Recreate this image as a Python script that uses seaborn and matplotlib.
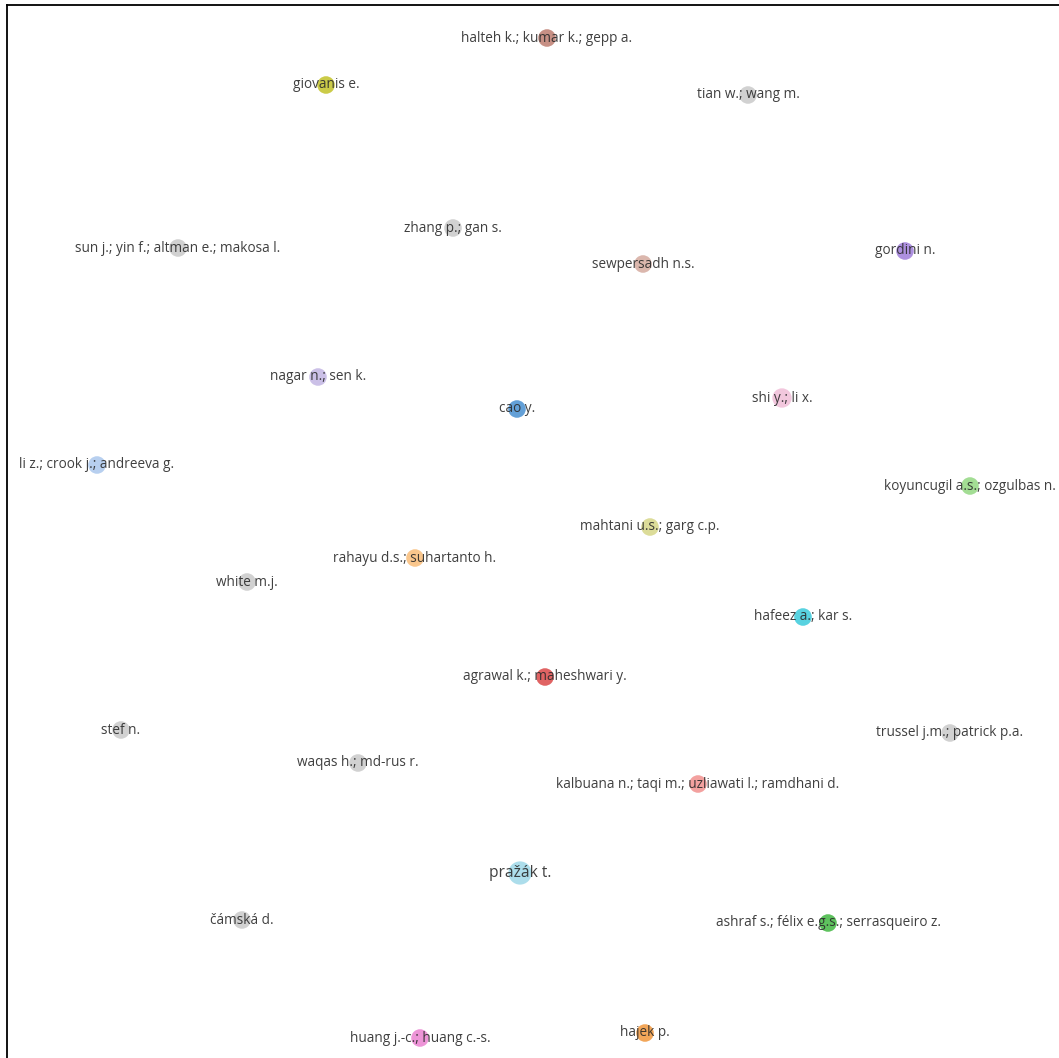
import matplotlib
matplotlib.use("Agg")
import matplotlib.pyplot as plt
import seaborn as sns
import pandas as pd

# node labels, map positions, cluster colours, weights
labels = [
    "halteh k.; kumar k.; gepp a.", "giovanis e.", "tian w.; wang m.",
    "zhang p.; gan s.", "sun j.; yin f.; altman e.; makosa l.", "sewpersadh n.s.",
    "gordini n.", "nagar n.; sen k.", "cao y.", "shi y.; li x.",
    "li z.; crook j.; andreeva g.", "koyuncugil a.s.; ozgulbas n.",
    "mahtani u.s.; garg c.p.", "rahayu d.s.; suhartanto h.", "white m.j.",
    "hafeez a.; kar s.", "agrawal k.; maheshwari y.", "stef n.",
    "trussel j.m.; patrick p.a.", "waqas h.; md-rus r.",
    "kalbuana n.; taqi m.; uzliawati l.; ramdhani d.", "pražák t.", "čámská d.",
    "ashraf s.; félix e.g.s.; serrasqueiro z.", "huang j.-c.; huang c.-s.", "hajek p.",
]
x_pos = [547, 326, 748, 453, 178, 643, 905, 318, 517, 782, 97, 970, 650,
         415, 247, 803, 545, 121, 950, 358, 698, 520, 242, 828, 420, 645]
y_pos = [38, 85, 95, 228, 248, 264, 251, 377, 409, 398, 465, 486, 527,
         558, 582, 617, 677, 730, 733, 763, 784, 873, 920, 923, 1038, 1033]
colors = [
    "#c48a7e", "#c9c93e", "#cfcfcf", "#cfcfcf", "#cfcfcf", "#d9b3a9",
    "#a98ade", "#c9bde6", "#5b9bd5", "#f2c4dc", "#b3cdef", "#9edc8e",
    "#dada94", "#f9c386", "#cfcfcf", "#4fd0df", "#df5b5b", "#cfcfcf",
    "#cfcfcf", "#cfcfcf", "#f39c9a", "#a8dcea", "#cfcfcf", "#55bf55",
    "#ec8ed5", "#f2a150",
]
weights = [1, 1, 1, 1, 1, 1, 1, 1, 1, 1.2, 1, 1, 1, 1, 1, 1, 1, 1, 1,
           1, 1, 1.7, 1, 1, 1, 1]

df = pd.DataFrame({"label": labels, "x": x_pos, "y": y_pos, "w": weights})

sns.set_theme(style="white")
plt.rcParams["font.family"] = ["Open Sans", "DejaVu Sans"]

fig = plt.figure(figsize=(10.59, 10.58), dpi=100)
ax = fig.add_axes([7 / 1059, 0, 1 - 7 / 1059, 1 - 5 / 1058])

sns.scatterplot(data=df, x="x", y="y", hue="label", palette=colors,
                size="w", sizes=(160, 280), legend=False,
                edgecolor="none", alpha=0.95, ax=ax)

for lab, xx, yy, w in zip(labels, x_pos, y_pos, weights):
    ax.text(xx, yy, lab, ha="center", va="center",
            fontsize=9.8 if w < 1.5 else 11.2, color="#2b2b2b", alpha=0.9)

ax.set_xlim(7, 1059)
ax.set_ylim(1058, 5)
ax.set_xticks([])
ax.set_yticks([])
ax.set_xlabel("")
ax.set_ylabel("")
for side in ["right", "bottom"]:
    ax.spines[side].set_visible(False)
for side in ["left", "top"]:
    ax.spines[side].set_color("black")
    ax.spines[side].set_linewidth(1.3)

plt.savefig("out.png", dpi=100)
